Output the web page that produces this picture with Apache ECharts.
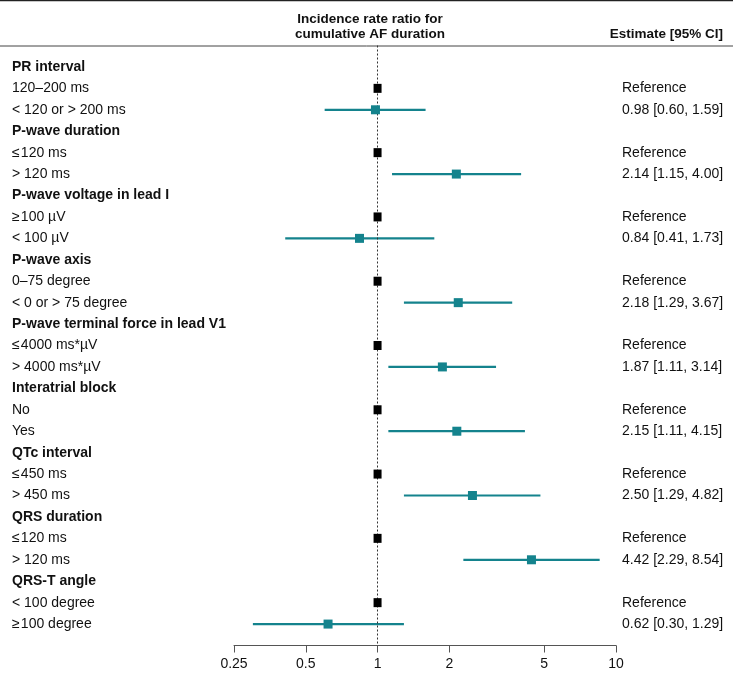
<!DOCTYPE html>
<html><head><meta charset="utf-8">
<script src="https://cdn.jsdelivr.net/npm/echarts@6/dist/echarts.min.js"></script>
<style>html,body{margin:0;padding:0;background:#fff}#c{width:733px;height:673px}</style>
</head><body><div id="c"></div>
<script>
const groupNames = ['PR interval', 'P-wave duration', 'P-wave voltage in lead I', 'P-wave axis', 'P-wave terminal force in lead V1', 'Interatrial block', 'QTc interval', 'QRS duration', 'QRS-T angle'];
const refLabels = ['120–200 ms', '≤\u200A120 ms', '≥\u200A100 µV', '0–75 degree', '≤\u200A4000 ms*µV', 'No', '≤\u200A450 ms', '≤\u200A120 ms', '< 100 degree'];
const cmpLabels = ['< 120 or > 200 ms', '> 120 ms', '< 100 µV', '< 0 or > 75 degree', '> 4000 ms*µV', 'Yes', '> 450 ms', '> 120 ms', '≥\u200A100 degree'];
const estimate = [0.98, 2.14, 0.84, 2.18, 1.87, 2.15, 2.50, 4.42, 0.62];
const lower = [0.60, 1.15, 0.41, 1.29, 1.11, 1.11, 1.29, 2.29, 0.30];
const upper = [1.59, 4.00, 1.73, 3.67, 3.14, 4.15, 4.82, 8.54, 1.29];
const refValue = 1;
const xTicks = [0.25, 0.5, 1, 2, 5, 10];

const FONT = 'Liberation Sans, Arial, Helvetica, sans-serif';
const TEAL = '#14838d';

// build rows
const leftText = {}, rightText = {};
const refPts = [], cmpPts = [], ciData = [];
groupNames.forEach((g, i) => {
  const r = 3 * i;
  leftText[r] = '{b|' + g + '}';
  leftText[r + 1] = '{n|' + refLabels[i] + '}';
  leftText[r + 2] = '{n|' + cmpLabels[i] + '}';
  rightText[r + 1] = 'Reference';
  rightText[r + 2] = estimate[i].toFixed(2) + ' [' + lower[i].toFixed(2) + ', ' + upper[i].toFixed(2) + ']';
  refPts.push([refValue, r + 1]);
  cmpPts.push([estimate[i], r + 2]);
  ciData.push([lower[i], upper[i], r + 2]);
});

const chart = echarts.init(document.getElementById('c'), null, {renderer: 'canvas'});
chart.setOption({
  animation: false,
  textStyle: {fontFamily: FONT},
  grid: {left: 234, right: 117, top: 45.5, bottom: 27.5},
  xAxis: {
    type: 'log', min: 0.25, max: 10, position: 'bottom',
    axisLine: {show: true, onZero: false, lineStyle: {color: '#555', width: 1}},
    axisTick: {show: true, length: 7, lineStyle: {color: '#555'}, customValues: xTicks},
    axisLabel: {customValues: xTicks, color: '#111', fontSize: 14, fontFamily: FONT, margin: 12,
      formatter: v => String(+(+v).toPrecision(6))},
    splitLine: {show: false}, minorTick: {show: false}
  },
  yAxis: [{
    type: 'value', inverse: true, min: -1, max: 27, interval: 1,
    axisLine: {show: false}, axisTick: {show: false}, splitLine: {show: false},
    axisLabel: {
      align: 'left', margin: 222,
      formatter: v => leftText[v] || '',
      rich: {
        b: {fontWeight: 'bold', fontSize: 14, color: '#111', fontFamily: FONT},
        n: {fontSize: 14, color: '#111', fontFamily: FONT}
      }
    }
  }, {
    type: 'value', inverse: true, min: -1, max: 27, interval: 1, position: 'right',
    axisLine: {show: false}, axisTick: {show: false}, splitLine: {show: false},
    axisLabel: {align: 'left', margin: 6, fontSize: 14, color: '#111', fontFamily: FONT,
      formatter: v => rightText[v] || ''}
  }],
  series: [{
    type: 'custom',
    data: ciData,
    encode: {x: [0, 1], y: 2},
    renderItem: (params, api) => {
      const p1 = api.coord([api.value(0), api.value(2)]);
      const p2 = api.coord([api.value(1), api.value(2)]);
      return {type: 'line', shape: {x1: p1[0], y1: p1[1], x2: p2[0], y2: p2[1]},
        style: {stroke: TEAL, lineWidth: 2.2}};
    },
    z: 3,
    markLine: {
      silent: true, symbol: 'none', label: {show: false},
      lineStyle: {type: [2, 2], color: '#333', width: 1},
      data: [{xAxis: refValue}]
    }
  }, {
    type: 'scatter', data: refPts, symbol: 'rect', symbolSize: [8, 9],
    itemStyle: {color: '#000', opacity: 1}, z: 5
  }, {
    type: 'scatter', data: cmpPts, symbol: 'rect', symbolSize: 9,
    itemStyle: {color: TEAL, opacity: 1}, z: 5
  }],
  graphic: [
    {type: 'line', shape: {x1: 0, y1: 0.5, x2: 733, y2: 0.5}, style: {stroke: '#222', lineWidth: 1.5}},
    {type: 'line', shape: {x1: 0, y1: 46, x2: 733, y2: 46}, style: {stroke: '#444', lineWidth: 1}},
    {type: 'text', x: 370, y: 19, style: {text: 'Incidence rate ratio for', font: 'bold 13.5px ' + FONT, fill: '#111', textAlign: 'center', textVerticalAlign: 'middle'}},
    {type: 'text', x: 370, y: 34, style: {text: 'cumulative AF duration', font: 'bold 13.5px ' + FONT, fill: '#111', textAlign: 'center', textVerticalAlign: 'middle'}},
    {type: 'text', x: 723, y: 34, style: {text: 'Estimate [95% CI]', font: 'bold 13.5px ' + FONT, fill: '#111', textAlign: 'right', textVerticalAlign: 'middle'}}
  ]
});
</script>
</body></html>
